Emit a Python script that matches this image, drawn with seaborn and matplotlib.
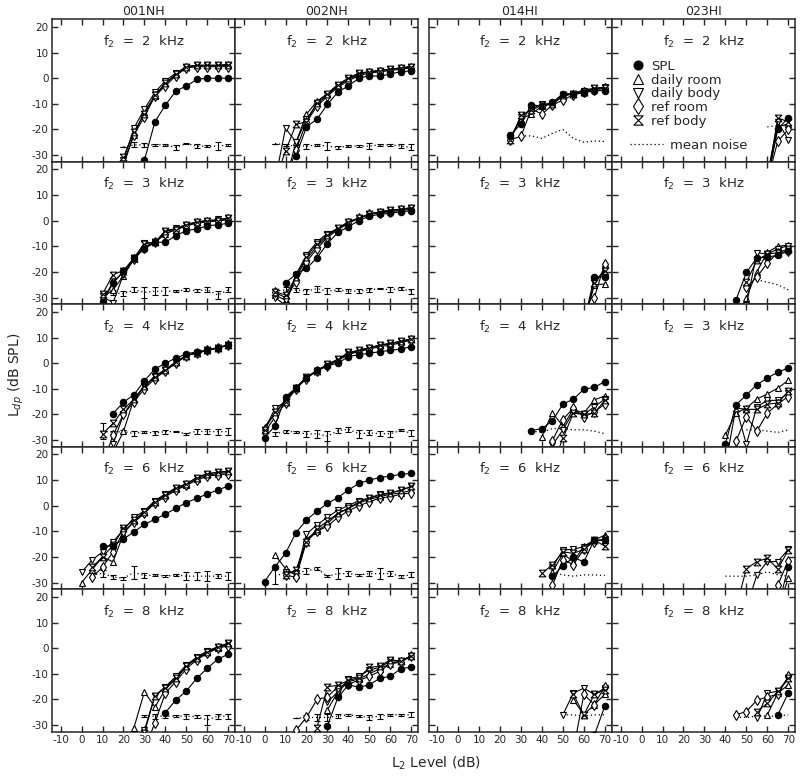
import matplotlib
matplotlib.use("Agg")
import matplotlib.pyplot as plt
from matplotlib.lines import Line2D
import seaborn as sns
import numpy as np
import pandas as pd

N = None
L2 = [0, 5, 10, 15, 20, 25, 30, 35, 40, 45, 50, 55, 60, 65, 70]

subjects = ["001NH", "002NH", "014HI", "023HI"]
# f2 written in each panel (rows top->bottom, columns = subjects)
f2_labels = [["2", "2", "2", "2"],
             ["3", "3", "3", "3"],
             ["4", "4", "4", "3"],
             ["6", "6", "6", "6"],
             ["8", "8", "8", "8"]]
series_names = ["SPL", "daily room", "daily body", "ref room", "ref body"]

# each panel: SPL, daily room, daily body, ref room, ref body  (dB SPL, per L2)
# ---- 001NH ----
s001_2k = [[N, N, N, N, N, N, -32, -17, -10.5, -5, -3, -0.5, 0, 0, 0],
           [N, N, N, N, -33, -22, -13, -7, -2, 1.5, 4.5, 5, 5, 5, 5.5],
           [N, N, N, N, -32, -19.5, -12, -5.5, -1, 2, 4.5, 5, 5, 5, 5],
           [N, N, N, N, -34, -22, -15, -7, -3, 1, 4, 4.5, 4.5, 4.5, 4.5],
           [N, N, N, N, -30.8, -21, -14, -6.5, -2, 1.5, 4.5, 5, 5, 5, 5]]
s001_2k_noise = [N, N, N, N, -26.8, -26, -26, -26, -26, -27, -25.5, -26.5, -26.5, -26.5, -26]
s001_2k_sd = [N, N, N, N, 0, 1, 0.8, 0.5, 0.5, 1, 0.2, 0.8, 0.5, 1.5, 0.5]

s001_3k = [[N, N, -31.8, -24.4, -19.7, -14.7, -11, -8.4, -8.4, -5.8, -3.9, -3.2, -2, -1.6, -1],
           [N, N, -30, -27, -21.5, -15, -10, -8.5, -5, -3.5, -2, -0.5, 0, 0, 0.5],
           [N, N, -29.5, -32, -21, -15, -8.7, -8.5, -3.9, -3, -1.5, -0.5, 0, 0.5, 1],
           [N, N, -31, -24, -20, -15, -10.5, -8.5, -5, -3.5, -2, -1, -0.5, 0, 0.5],
           [N, N, -28.6, -21, -19.5, -14.5, -9, -8.5, -4, -3.5, -1.5, -0.5, 0, 0, 1]]
s001_3k_noise = [N, N, -29, -28, -28.5, -27, -28, -27.5, -27.5, -27.5, -27, -27.3, -27, -29, -27]
s001_3k_sd = [N, N, 1, 1, 1, 1, 2, 1.5, 1.5, 0.4, 0.6, 0.5, 1, 1.5, 1]

s001_4k = [[N, N, N, -19.7, -15.2, -12.3, -6.8, -2.3, 0, 2, 3.6, 4.5, 5.2, 6.1, 7.1],
           [N, N, -40, -35, -26.6, -14, -9, -5, -2.5, 0.5, 3, 4, 5, 6, 7],
           [N, N, N, -31.6, -20, -14, -9, -5, -2.5, 0, 3, 4, 5, 6, 7],
           [N, N, -40, -28, -20, -15, -10, -6, -3, 0, 3, 4, 5, 6, 7],
           [N, N, -27.6, -23.5, -18, -14, -9, -5.5, -2.5, 0.5, 3, 4, 5, 6, 7]]
s001_4k_noise = [N, N, -26.5, -27, -26.6, -27.5, -26.7, -27.3, -26.7, -26.7, -27.5, -26.5, -26.7, -26.7, -26.7]
s001_4k_sd = [N, N, 3, 0.5, 0.5, 1, 0.4, 0.7, 0.8, 0.3, 0.4, 1, 1, 1.2, 1.3]

s001_6k = [[N, N, -15.7, -15.7, -13, -10.2, -7.3, -5.3, -3.3, -1, 1.2, 2.9, 4.6, 6.1, 7.7],
           [-30, -25, -20, -21.9, -11, -6, -2.5, 1.5, 4, 6.5, 8, 10.5, 12, 12.5, 13],
           [-26, -21.2, -18, -14, -9.5, -4.6, -2, 2, 4.6, 7, 8.5, 11, 12.5, 13, 13.5],
           [N, -28, -24, -18, -10, -6.5, -3, 1, 3.5, 6, 8, 10, 11.5, 12, 12.5],
           [N, -24, -20, -15.5, -8.8, -5.5, -2.5, 1.6, 4.2, 6.8, 8.5, 11, 12.5, 13, 13.5]]
s001_6k_noise = [N, -27, -26.4, -27.8, -28.3, -26, -27.3, -27, -27.5, -27, -27.5, -27.5, -27.5, -27.5, -27.5]
s001_6k_sd = [N, 1, 1.5, 0.8, 0.6, 2.5, 1, 0.5, 0.4, 0.5, 1.5, 1.5, 2, 0.8, 1.5]

s001_8k = [[N, N, N, N, N, N, N, N, -25.1, -20.2, -16.7, -11.7, -7.8, -4.3, -2.3],
           [N, N, N, N, N, -31, -17, -23, -16, -12, -7, -4, -1.5, 0, 1.5],
           [N, N, N, N, N, N, -32, -18.5, -15, -11, -6.5, -3.5, -1, 0.5, 2],
           [N, N, N, N, N, N, -40, -29, -17.5, -13, -8, -4.5, -2, 0, 1],
           [N, N, N, N, N, N, -33, -18.5, -15.5, -11.5, -7, -4, -1.5, 0.5, 2]]
s001_8k_noise = [N, N, N, N, N, N, -26.5, -26.5, -26.5, -26.5, -26.5, -26.7, -28, -26.5, -26.5]
s001_8k_sd = [N, N, N, N, N, N, 0.5, 1, 0.8, 0.4, 1, 0.5, 2, 1, 1]

# ---- 002NH ----
s002_2k = [[N, N, N, -30.2, -19, -16, -10.2, -5.4, -3, 0, 1, 0.7, 1.7, 2.5, 2.9],
           [N, N, -40, -25, -14, -9, -6, -2.5, 0, 2, 2.5, 3, 3.5, 4, 4.5],
           [N, -40, -19.5, -25, -16, -10, -6.5, -3, -0.5, 1.5, 2.5, 3, 3.5, 4, 4.5],
           [N, N, -40, -28, -17, -11, -7, -3.5, -1, 1, 2, 2.5, 3, 3.5, 4],
           [N, -40, -28.4, -18, -17, -9.5, -6, -2.5, 0, 2, 2.5, 3, 3.5, 4, 4.5]]
s002_2k_noise = [N, -25.5, -26, -26.5, -26.5, -26, -26.5, -27, -26.5, -26.5, -26.5, -26, -26, -26.5, -27]
s002_2k_sd = [N, 0, 0.3, 0.5, 1, 0.5, 1.5, 0.7, 0.5, 0.5, 1.2, 0.4, 0.4, 0.7, 1.2]

s002_3k = [[N, N, -24.2, -20.9, -18.6, -14.5, -8.9, -4.6, -2.3, 0, 1.8, 2.5, 2.9, 3.5, 3.9],
           [N, -29, -31, -22, -15, -10, -6, -3, -0.5, 1, 2.5, 3.5, 4, 4.5, 5],
           [N, -30, -33, -21, -13.4, -8.2, -5, -3, -0.5, 1, 2.5, 3.5, 4, 4.5, 5],
           [N, -28, -30, -24, -16, -11, -6.5, -3.5, -1, 1, 2.5, 3, 3.5, 4, 4.5],
           [N, -27.7, -29, -22, -14, -9, -5.5, -3, -0.5, 1, 2.5, 3.5, 4, 4.5, 5]]
s002_3k_noise = [N, -27.5, -27, -27, -27.5, -26.5, -27.5, -27, -27.5, -27.5, -27, -26.5, -27, -26.5, -27.5]
s002_3k_sd = [N, 0.5, 1, 0.8, 1, 1.2, 1.2, 0.6, 0.8, 0.7, 0.8, 0.3, 1, 0.5, 1]

s002_4k = [[-29, -24.5, -13, -9.7, -5.8, -2.6, -1, 0, 2.6, 3.3, 3.9, 4.5, 5, 5.5, 6.5],
           [-24.7, -20, -14, -9.5, -5.5, -3, -0.5, 1.5, 3.5, 5, 6, 7, 7.5, 8.3, 9.5],
           [-26, -17.6, -15, -9.5, -5.5, -3, -0.5, 1.5, 4, 5, 6, 7, 7.8, 8.5, 9.5],
           [-27, -21, -15.5, -10, -6, -3, -1, 1, 3.5, 4.5, 5.5, 6.5, 7, 8, 9],
           [-26, -19, -15, -9.5, -5.5, -3, -0.5, 1.5, 4.2, 5, 6, 7, 7.8, 8.5, 9.5]]
s002_4k_noise = [N, -27.5, -26.7, -26.7, -27.7, -27.5, -28.5, -26.3, -25.8, -27.5, -27.2, -27.5, -27.5, -26.2, -27.3]
s002_4k_sd = [N, 0.8, 0.6, 0.4, 1.2, 1.5, 2, 1, 1, 1.5, 1, 1, 1.2, 0.4, 1.2]

s002_6k = [[-29.6, -23.8, -18.6, -10.5, -5.6, -2.1, 0.9, 3.2, 6.1, 8.7, 10, 11, 11.6, 12.2, 12.6],
           [N, -19.3, -24.5, -27, -13, -10, -7, -3, -1, 1, 2.5, 3.5, 4.5, 5, 6],
           [N, N, -26, -26.4, -11, -7.5, -4.5, -1.7, 0, 2, 3, 4.5, 5, 6, 7.5],
           [N, N, -27, -28, -14, -10, -8, -4.5, -2, 0, 1.5, 3, 3.5, 4.5, 5],
           [N, N, -27, -25, -14, -9, -6, -3, -1, 1.5, 3, 4, 5, 6, 7.5]]
s002_6k_noise = [N, -27.5, -26, -26, -25.5, -24.5, -27.5, -26.5, -26.5, -27, -26.5, -26.5, -26.5, -27.5, -27]
s002_6k_sd = [N, 3, 1, 1, 1, 0.5, 0.5, 2, 1, 0.5, 1, 2, 1, 0.6, 1]

s002_8k = [[N, N, N, N, N, N, -30.2, -19.2, -14.3, -15.2, -14.3, -11.7, -11, -8, -7.4],
           [N, N, N, N, N, N, -24, -17, -13, -12, -10, -8, -6, -5, -3],
           [N, N, N, N, N, N, -21, -17, -12, -11, -8.5, -7.5, -5, -5, -3],
           [N, N, N, -32, -27, -20, -19, -15, -14, -12.5, -11, -9, -6, -5.5, -3],
           [N, N, N, N, N, -31, -15, -14.5, -12.5, -11.5, -7.5, -7, -4.5, -5, -3]]
s002_8k_noise = [N, N, N, -27.4, -27, -27, -27, -26.5, -26, -26.5, -27, -26.5, -26, -26, -26]
s002_8k_sd = [N, N, N, 0, 1, 1.5, 1.5, 0.8, 0.5, 0.5, 1, 1, 0.4, 0.4, 1]

# ---- 014HI ----
s014_2k = [[N, N, N, N, N, -22.3, -17.8, -10.3, -11, -9.4, -6.1, -6.1, -5.8, -4.8, -4.8],
           [N, N, N, N, N, -23, -16, -13.9, -11, -10, -7, -6, -4.5, -4, -3.5],
           [N, N, N, N, N, -23.5, -15, -12, -10, -10, -7, -6, -5, -4, -3.5],
           [N, N, N, N, N, -24, -22.7, -12, -14, -10.5, -8.5, -6.5, -5.5, -4.5, -4],
           [N, N, N, N, N, -24.3, -14.5, -12.5, -10.5, -10, -6.5, -6, -5.5, -4, -4]]
s014_2k_noise = [N, N, N, N, N, N, -22.5, -22.5, -23.5, -21.5, -20, -23.5, -25, -24.5, -24.7]

s014_3k = [[N, N, N, N, N, N, N, N, N, N, N, N, -40, -22, -21.8],
           [N, N, N, N, N, N, N, N, N, N, N, N, -40, -25, -24.7],
           [N, N, N, N, N, N, N, N, N, N, N, N, -40, -24, -19],
           [N, N, N, N, N, N, N, N, N, N, N, N, N, -30, -16.7],
           [N, N, N, N, N, N, N, N, N, N, N, N, -40, -24.5, -19.5]]
s014_3k_noise = [N] * 15

s014_4k = [[N, N, N, N, N, N, N, -26.3, -25.5, -22.5, -16, -14, -10.2, -9.4, -7.2],
           [N, N, N, N, N, N, N, N, -28.6, -19.3, -24.5, -18, -19.5, -14.3, -12.8],
           [N, N, N, N, N, N, N, N, N, -32, -26, -19, -20, -17, -14],
           [N, N, N, N, N, N, N, N, N, -30.2, -22, -17.5, -21, -19, -15.9],
           [N, N, N, N, N, N, N, N, N, -40, -29.3, -19.5, -20, -19.5, -14.5]]
s014_4k_noise = [N, N, N, N, N, N, N, -26.5, -27, -25.5, -25.5, -26, -26, -26.5, -27.5]

s014_6k = [[N, N, N, N, N, N, N, N, N, -27.5, -23.5, -20.2, -21.9, -13.4, -13.4],
           [N, N, N, N, N, N, N, N, N, -26, -18.6, -22, -15.8, -13.4, -11.5],
           [N, N, N, N, N, N, N, N, N, -24, -17.3, -17, -16, -14, -13],
           [N, N, N, N, N, N, N, N, N, -31, -21, -23, -17, -14, -13],
           [N, N, N, N, N, N, N, N, -26.4, -23, -18, -18.6, -17, -13.4, -15.8]]
s014_6k_noise = [N, N, N, N, N, N, N, N, N, -26, -27, -27.5, -27, -27, -27.2]

s014_8k = [[N, N, N, N, N, N, N, N, N, N, N, N, N, -34, -22.6],
           [N, N, N, N, N, N, N, N, N, N, N, -20.1, -26, -22, -18],
           [N, N, N, N, N, N, N, N, N, N, -26, -17.5, -15.6, -18, -15.6],
           [N, N, N, N, N, N, N, N, N, N, N, -40, -18, -22, -15],
           [N, N, N, N, N, N, N, N, N, N, N, -18, -26, -18, -16.3]]
s014_8k_noise = [N, N, N, N, N, N, N, N, N, N, -26, -26, -26.5, -26, -26]

# ---- 023HI ----
s023_2k = [[N, N, N, N, N, N, N, N, N, N, N, N, -40, -19.8, -15.5],
           [N, N, N, N, N, N, N, N, N, N, N, N, -40, -19, -17.8],
           [N, N, N, N, N, N, N, N, N, N, N, N, -38, -17, -24],
           [N, N, N, N, N, N, N, N, N, N, N, N, -40, -24.6, -20],
           [N, N, N, N, N, N, N, N, N, N, N, N, -40, -15.5, -17]]
s023_2k_noise = [N, N, N, N, N, N, N, N, N, N, N, N, -19, -18.5, -18.5]

s023_3k = [[N, N, N, N, N, N, N, N, N, -31, -20.2, -14.5, -14.2, -13.5, -11.8],
           [N, N, N, N, N, N, N, N, N, N, -30, -20, -12.3, -10, -9.5],
           [N, N, N, N, N, N, N, N, N, N, -33, -12.5, -13, -11, -9.7],
           [N, N, N, N, N, N, N, N, N, N, -26, -22, -16.5, -12.5, -12],
           [N, N, N, N, N, N, N, N, N, N, -24, -15.5, -13, -12.5, -11]]
s023_3k_noise = [N, N, N, N, N, N, N, N, N, N, N, -23, -24, -25, -27]

s023_3kb = [[N, N, N, N, N, N, N, N, -31.5, -16.3, -12.4, -8.4, -5.8, -3.5, -1.9],
            [N, N, N, N, N, N, N, N, -28, -19.5, -17.5, -14, -12, -9.7, -6.7],
            [N, N, N, N, N, N, N, N, N, -17, -31.6, -17, -14.5, -14.5, -11.7],
            [N, N, N, N, N, N, N, N, N, -30.5, -20.8, -26.5, -19.5, -15.9, -13],
            [N, N, N, N, N, N, N, N, -40, -17.5, -18, -18, -16, -15.5, -11]]
s023_3kb_noise = [N, N, N, N, N, N, N, N, N, N, -26, -26, -26.5, -27, -26]

s023_6k = [[N, N, N, N, N, N, N, N, N, N, N, N, N, -40, -23.8],
           [N, N, N, N, N, N, N, N, N, N, N, N, N, -40, -28.4],
           [N, N, N, N, N, N, N, N, N, N, -40, -27, -21.8, -21.8, -17],
           [N, N, N, N, N, N, N, N, N, N, N, N, N, -31, -21.4],
           [N, N, N, N, N, N, N, N, N, -40, -24.6, -21.8, -20.5, -24.7, -17.3]]
s023_6k_noise = [N, N, N, N, N, N, N, N, -27.5, -27.5, -27.5, -27, -25.8, -27, -27.5]

s023_8k = [[N, N, N, N, N, N, N, N, N, N, N, N, N, -26, -17.5],
           [N, N, N, N, N, N, N, N, N, N, N, N, -26, -17.5, -14.3],
           [N, N, N, N, N, N, N, N, N, N, N, -27.3, -17.5, -16.8, -12],
           [N, N, N, N, N, N, N, N, N, -26, -24.7, -20.3, -19, -18, -11],
           [N, N, N, N, N, N, N, N, N, N, N, -24.7, -21.5, -16.8, -11.6]]
s023_8k_noise = [N, N, N, N, N, N, N, N, N, -27, -27, -26.5, -26.5, -26.5, -26]

panels = [
    [(s001_2k, s001_2k_noise, s001_2k_sd), (s002_2k, s002_2k_noise, s002_2k_sd),
     (s014_2k, s014_2k_noise, None), (s023_2k, s023_2k_noise, None)],
    [(s001_3k, s001_3k_noise, s001_3k_sd), (s002_3k, s002_3k_noise, s002_3k_sd),
     (s014_3k, s014_3k_noise, None), (s023_3k, s023_3k_noise, None)],
    [(s001_4k, s001_4k_noise, s001_4k_sd), (s002_4k, s002_4k_noise, s002_4k_sd),
     (s014_4k, s014_4k_noise, None), (s023_3kb, s023_3kb_noise, None)],
    [(s001_6k, s001_6k_noise, s001_6k_sd), (s002_6k, s002_6k_noise, s002_6k_sd),
     (s014_6k, s014_6k_noise, None), (s023_6k, s023_6k_noise, None)],
    [(s001_8k, s001_8k_noise, s001_8k_sd), (s002_8k, s002_8k_noise, s002_8k_sd),
     (s014_8k, s014_8k_noise, None), (s023_8k, s023_8k_noise, None)],
]

sns.set_style("ticks")
plt.rcParams["font.family"] = ["DejaVu Sans"]
plt.rcParams["axes.linewidth"] = 1.1
plt.rcParams["axes.unicode_minus"] = False

HOURGLASS = [(-1, 1), (1, 1), (-1, -1), (1, -1), (-1, 1)]
# marker, size, face colour for SPL, daily room, daily body, ref room, ref body
mk = [("o", 4.6, "black"), ("^", 5.0, "white"), ("v", 5.0, "white"),
      ("d", 5.6, "white"), (HOURGLASS, 4.8, "white")]
DOTS = (0, (1, 2.2))


def to_frame(vals):
    return pd.DataFrame({"L2": L2, "v": np.array(vals, dtype=float)}).dropna()


fig = plt.figure(figsize=(8, 7.77), dpi=100)
W, H = 800.0, 777.0
col_left = [52, 235, 428.5, 612]
pw, ph, top0 = 183, 142.5, 19

for r in range(5):
    for c in range(4):
        ax = fig.add_axes([col_left[c] / W, 1 - (top0 + (r + 1) * ph) / H, pw / W, ph / H])
        curves, noise, sd = panels[r][c]

        nd = to_frame(noise)
        if len(nd):
            if sd is not None:
                sdv = np.array(sd, dtype=float)[nd.index]
                ax.errorbar(nd["L2"], nd["v"], yerr=sdv, fmt="none", ecolor="black",
                            elinewidth=0.8, capsize=2, capthick=0.8, zorder=2)
            sns.lineplot(data=nd, x="L2", y="v", ax=ax, color="black", lw=0.9,
                         linestyle=DOTS, estimator=None, errorbar=None, zorder=2)

        for k in [1, 2, 3, 4, 0]:
            d = to_frame(curves[k])
            m, ms, fc = mk[k]
            sns.lineplot(data=d, x="L2", y="v", ax=ax, color="black", lw=0.8,
                         marker=m, ms=ms, mfc=fc, mec="black", mew=0.8,
                         estimator=None, errorbar=None, zorder=3)

        ax.set_xlim(-14.1, 73.2)
        ax.set_ylim(-32.5, 23.1)
        ax.set_xticks(range(-10, 71, 10))
        ax.set_yticks(range(-30, 21, 10))
        ax.tick_params(direction="in", top=True, right=True, length=4.5, width=1.0,
                       labelsize=7.5, pad=2.5,
                       labelleft=(c == 0), labelbottom=(r == 4))
        ax.set_xlabel("")
        ax.set_ylabel("")
        ax.text(0.5, 0.84, "f$_2$  =  " + f2_labels[r][c] + "  kHz", transform=ax.transAxes,
                ha="center", va="center", fontsize=9.5)
        if r == 0:
            ax.set_title(subjects[c], fontsize=9, pad=3)

        if r == 0 and c == 3:
            handles = [Line2D([], [], ls="none", marker=mk[k][0], ms=mk[k][1] * 1.4,
                              mfc=mk[k][2], mec="black", mew=0.8, color="black")
                       for k in range(5)]
            leg = ax.legend(handles, series_names, loc="upper left",
                            bbox_to_anchor=(0.104, 0.712), frameon=False,
                            handlelength=1.0, handletextpad=0.5, labelspacing=0.05,
                            fontsize=9.5, borderpad=0, borderaxespad=0)
            ax.add_artist(leg)
            ax.legend([Line2D([], [], color="black", lw=0.9, ls=DOTS)], ["mean noise"],
                      loc="upper left", bbox_to_anchor=(0.098, 0.158), frameon=False,
                      handlelength=2.5, handletextpad=0.55, fontsize=9.5,
                      borderpad=0, borderaxespad=0)
        elif ax.get_legend() is not None:
            ax.get_legend().remove()

fig.text(0.545, 0.018, "L$_2$ Level (dB)", ha="center", va="center", fontsize=10)
fig.text(0.02, 0.517, "L$_{dp}$ (dB SPL)", rotation=90, ha="center", va="center", fontsize=10)

fig.savefig("out.png", dpi=100)
